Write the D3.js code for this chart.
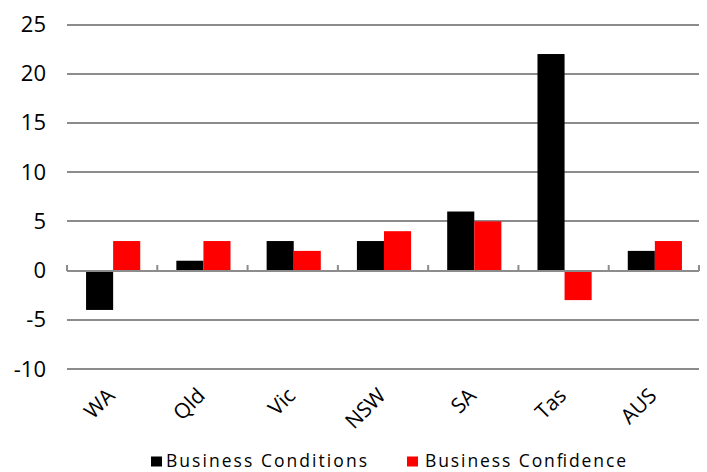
<!DOCTYPE html>
<html>
<head>
<meta charset="utf-8">
<script src="https://cdn.jsdelivr.net/npm/d3@7"></script>
<style>
  html, body { margin: 0; padding: 0; background: #fff; }
  svg { display: block; }
  text { font-family: "Open Sans", "Liberation Sans", sans-serif; fill: #000; }
</style>
</head>
<body>
<svg id="chart" width="707" height="472"></svg>
<script>
// Business survey results by state
const categories = ["WA", "Qld", "Vic", "NSW", "SA", "Tas", "AUS"];
const seriesNames = ["Business Conditions", "Business Confidence"];
const conditions = [-4, 1, 3, 3, 6, 22, 2];
const confidence = [3, 3, 2, 4, 5, -3, 3];
const yTicks = [-10, -5, 0, 5, 10, 15, 20, 25];
const colors = ["#000000", "#ff0000"];

const svg = d3.select("#chart");
const plotLeft = 67, plotRight = 699, plotTop = 24.5, plotBottom = 369;

const x = d3.scaleBand().domain(categories).range([plotLeft + 1, plotRight + 1]).paddingInner(0.4).paddingOuter(0.2);
const xOuter = d3.scaleBand().domain(categories).range([plotLeft, plotRight]);
const xInner = d3.scaleBand().domain(seriesNames).range([0, x.bandwidth()]);
const y = d3.scaleLinear().domain([-10, 25]).range([plotBottom, plotTop]);

// horizontal gridlines
svg.append("g")
  .selectAll("line")
  .data(yTicks.filter(d => d !== 0))
  .join("line")
  .attr("x1", plotLeft).attr("x2", plotRight)
  .attr("y1", d => Math.round(y(d))).attr("y2", d => Math.round(y(d)))
  .attr("stroke", "#8c8c8c").attr("stroke-width", 2);

// y-axis labels (plain hyphen for negatives)
const yAxis = d3.axisLeft(y).tickValues(yTicks).tickFormat(d => String(d)).tickSize(0).tickPadding(0);
const yG = svg.append("g").attr("transform", "translate(46,0)").call(yAxis);
yG.select(".domain").remove();
yG.selectAll("text").attr("font-size", 22).attr("font-family", "Open Sans, sans-serif").attr("fill", "#000");

// bars
const rows = categories.map((c, i) => ({ c, vals: [conditions[i], confidence[i]] }));
const groups = svg.append("g").selectAll("g").data(rows).join("g")
  .attr("transform", d => `translate(${x(d.c)},0)`);
groups.selectAll("rect")
  .data(d => d.vals.map((v, j) => ({ name: seriesNames[j], v, j })))
  .join("rect")
  .attr("x", d => xInner(d.name))
  .attr("width", xInner.bandwidth())
  .attr("y", d => y(Math.max(0, d.v)))
  .attr("height", d => Math.abs(y(d.v) - y(0)))
  .attr("fill", d => colors[d.j]);

// zero axis line with category tick marks
const zy = Math.round(y(0));
const axisG = svg.append("g");
axisG.append("line")
  .attr("x1", plotLeft).attr("x2", plotRight).attr("y1", zy).attr("y2", zy)
  .attr("stroke", "#8c8c8c").attr("stroke-width", 2);
const boundaries = categories.map(c => xOuter(c)).concat([plotRight]);
axisG.selectAll("line.tick").data(boundaries).join("line")
  .attr("class", "tick")
  .attr("x1", d => d).attr("x2", d => d)
  .attr("y1", zy).attr("y2", zy - 6)
  .attr("stroke", "#8c8c8c").attr("stroke-width", 2);

// rotated category labels
svg.append("g").selectAll("text").data(categories).join("text")
  .attr("transform", d => `translate(${xOuter(d) + xOuter.bandwidth() / 2 + 4},${397}) rotate(-45)`)
  .attr("text-anchor", "end")
  .attr("font-size", 21)
  .text(d => d);

// legend
const legend = svg.append("g");
const legendItems = [
  { name: seriesNames[0], color: colors[0], sx: 151, tx: 166 },
  { name: seriesNames[1], color: colors[1], sx: 407, tx: 425 }
];
legend.selectAll("rect").data(legendItems).join("rect")
  .attr("x", d => d.sx).attr("y", 456.5).attr("width", 11).attr("height", 10)
  .attr("fill", d => d.color);
legend.selectAll("text").data(legendItems).join("text")
  .attr("x", d => d.tx).attr("y", 467)
  .attr("font-size", 17.5)
  .attr("textLength", 201)
  .attr("lengthAdjust", "spacing")
  .text(d => d.name);
</script>
</body>
</html>
